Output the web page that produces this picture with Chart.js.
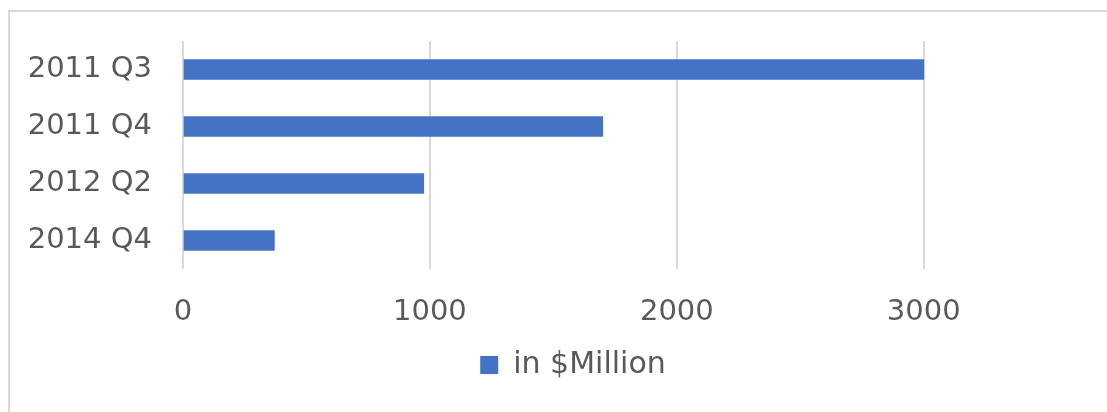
<!DOCTYPE html>
<html>
<head>
<meta charset="utf-8">
<script src="https://cdn.jsdelivr.net/npm/chart.js@4/dist/chart.umd.min.js"></script>
<style>
  html, body { margin: 0; padding: 0; background: #fff; overflow: hidden; width: 1107px; height: 412px; }
  .linea { position: absolute; background: #d9d9d9; }
  #wrap { position: absolute; left: 0; top: 0; width: 1150px; height: 412px; }
</style>
</head>
<body>
<div class="linea" style="left:8px; top:10px; width:1099px; height:2px;"></div>
<div class="linea" style="left:8px; top:10px; width:2px; height:402px;"></div>
<div id="wrap"><canvas id="myChart"></canvas></div>
<script>
// Datos del gráfico
const categorias = ['2011 Q3', '2011 Q4', '2012 Q2', '2014 Q4'];
const montos = [3000, 1700, 975, 370];
const serieNombre = 'in $Million';
const ticksX = [0, 1000, 2000, 3000];

const fuente = { family: 'DejaVu Sans', size: 29 };
const gris = '#595959';

const ctx = document.getElementById('myChart').getContext('2d');

new Chart(ctx, {
    type: 'bar',
    data: {
        labels: categorias,
        datasets: [{
            label: serieNombre,
            data: montos,
            backgroundColor: '#4472c4',
            borderWidth: 0,
            barThickness: 20
        }]
    },
    options: {
        indexAxis: 'y',
        responsive: true,
        maintainAspectRatio: false,
        animation: false,
        layout: {
            padding: { left: 0, right: 4, top: 41, bottom: 22 }
        },
        plugins: {
            legend: {
                position: 'bottom',
                labels: {
                    boxWidth: 18,
                    boxHeight: 18,
                    padding: 10,
                    color: gris,
                    font: { family: 'DejaVu Sans', size: 30 }
                }
            },
            tooltip: { enabled: false }
        },
        scales: {
            x: {
                min: 0,
                max: 3900,
                afterBuildTicks: function(scale) {
                    // Solo mostrar las marcas hasta 3000
                    scale.ticks = ticksX.map(v => ({ value: v }));
                },
                afterFit: function(scale) { scale.height = 71; },
                grid: { color: '#d9d9d9', lineWidth: 2, drawTicks: false },
                border: { display: false },
                ticks: {
                    color: gris, font: fuente, padding: 26, maxRotation: 0,
                    callback: function(value) { return String(value); }
                }
            },
            y: {
                afterFit: function(scale) {
                    scale.width = 183;
                    // Evitar que el padding de las etiquetas empuje el área del gráfico
                    scale.paddingTop = 0;
                    scale.paddingBottom = 0;
                },
                grid: { display: false, drawTicks: false },
                border: { display: false },
                ticks: { color: gris, font: fuente, padding: 31 }
            }
        }
    }
});
</script>
</body>
</html>
